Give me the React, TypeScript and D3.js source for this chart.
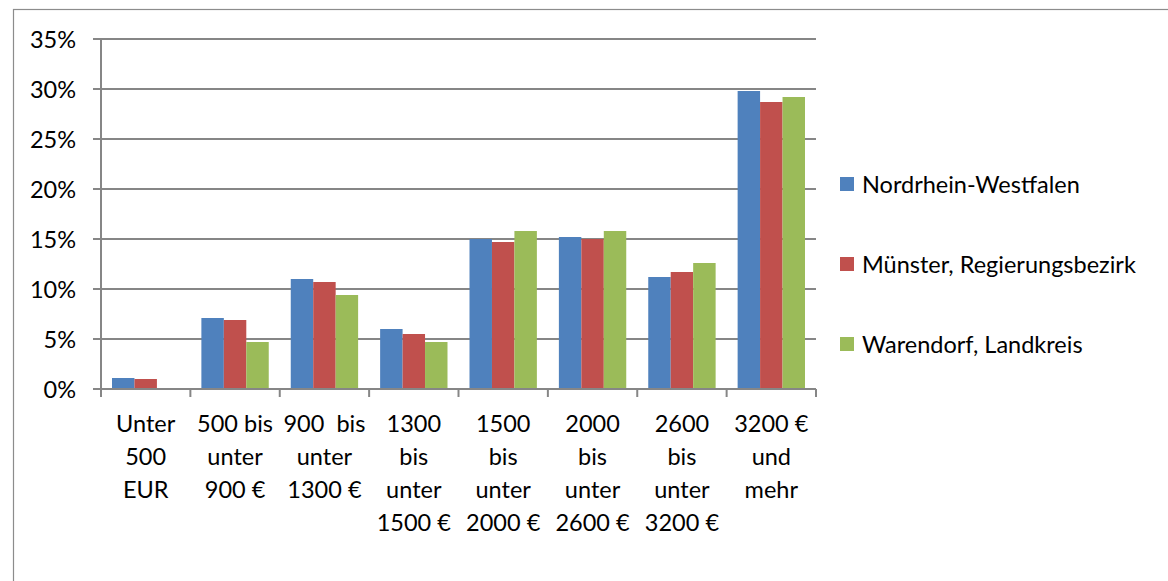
import React, { useEffect, useRef } from 'react';
import * as d3 from 'd3';

const categories = [
  ['Unter', '500', 'EUR'],
  ['500 bis', 'unter', '900 €'],
  ['900  bis', 'unter', '1300 €'],
  ['1300', 'bis', 'unter', '1500 €'],
  ['1500', 'bis', 'unter', '2000 €'],
  ['2000', 'bis', 'unter', '2600 €'],
  ['2600', 'bis', 'unter', '3200 €'],
  ['3200 €', 'und', 'mehr'],
];
const seriesNames = ['Nordrhein-Westfalen', 'Münster, Regierungsbezirk', 'Warendorf, Landkreis'];
const nrw = [1.1, 7.1, 11.0, 6.0, 15.0, 15.2, 11.2, 29.8];
const muenster = [1.0, 6.9, 10.7, 5.5, 14.7, 15.0, 11.7, 28.7];
const warendorf = [0, 4.7, 9.4, 4.7, 15.8, 15.8, 12.6, 29.2];
const yTicks = [0, 5, 10, 15, 20, 25, 30, 35];
const colors = ['#4F81BD', '#C0504D', '#9BBB59'];

export default function App() {
  const svgRef = useRef<SVGSVGElement>(null);

  useEffect(() => {
    if (!svgRef.current) return;
    const svg = d3.select(svgRef.current);
    svg.selectAll('*').remove();

    const font = 'Lato, Carlito, sans-serif';
    const fontSize = 23.5;
    const left = 101, right = 816, top = 39, bottom = 389;

    // outer chart border
    svg.append('rect')
      .attr('x', 13.5).attr('y', 9.5)
      .attr('width', 1200).attr('height', 700)
      .attr('fill', 'white')
      .attr('stroke', '#8c8c8c')
      .attr('stroke-width', 1.2);

    const idx = categories.map((_, i) => String(i));
    const x = d3.scaleBand().domain(idx).range([left, right]).paddingInner(0).paddingOuter(0);
    const x1 = d3.scaleBand().domain(['0', '1', '2']).range([0, x.bandwidth()]).paddingOuter(0.49).paddingInner(0);
    const y = d3.scaleLinear().domain([0, 35]).range([bottom, top]);

    // gridlines
    svg.append('g').selectAll('line')
      .data(yTicks)
      .enter()
      .append('line')
      .attr('x1', left - 8).attr('x2', right)
      .attr('y1', d => y(d)).attr('y2', d => y(d))
      .attr('stroke', '#868686')
      .attr('stroke-width', 2);

    // y labels
    svg.append('g').selectAll('text')
      .data(yTicks)
      .enter()
      .append('text')
      .attr('x', 76)
      .attr('y', d => y(d))
      .attr('text-anchor', 'end')
      .attr('dominant-baseline', 'central')
      .attr('font-family', font)
      .attr('font-size', fontSize)
      .attr('fill', '#000')
      .text(d => `${d}%`);

    // bars
    const series = [nrw, muenster, warendorf];
    series.forEach((vals, s) => {
      svg.append('g').selectAll('rect')
        .data(vals)
        .enter()
        .append('rect')
        .attr('x', (_, i) => x(String(i))! + x1(String(s))!)
        .attr('width', x1.bandwidth())
        .attr('y', d => y(d))
        .attr('height', d => bottom - y(d))
        .attr('fill', colors[s]);
    });

    // axes lines
    svg.append('line')
      .attr('x1', left).attr('x2', left)
      .attr('y1', top).attr('y2', bottom)
      .attr('stroke', '#868686').attr('stroke-width', 2);
    svg.append('line')
      .attr('x1', left - 8).attr('x2', right)
      .attr('y1', bottom).attr('y2', bottom)
      .attr('stroke', '#868686').attr('stroke-width', 2);
    // x ticks
    svg.append('g').selectAll('line')
      .data(d3.range(categories.length + 1))
      .enter()
      .append('line')
      .attr('x1', i => left + i * x.bandwidth())
      .attr('x2', i => left + i * x.bandwidth())
      .attr('y1', bottom).attr('y2', bottom + 8)
      .attr('stroke', '#868686').attr('stroke-width', 2);

    // x labels
    const xl = svg.append('g').selectAll('text')
      .data(categories)
      .enter()
      .append('text')
      .attr('text-anchor', 'middle')
      .attr('font-family', font)
      .attr('font-size', fontSize)
      .attr('fill', '#000')
      .style('white-space', 'pre');
    xl.each(function (lines, i) {
      const t = d3.select(this);
      lines.forEach((ln, j) => {
        t.append('tspan')
          .attr('x', x(String(i))! + x.bandwidth() / 2)
          .attr('y', 423 + j * 33)
          .attr('dominant-baseline', 'central')
          .text(ln);
      });
    });

    // legend
    const lg = svg.append('g').selectAll('g')
      .data(seriesNames)
      .enter()
      .append('g')
      .attr('transform', (_, i) => `translate(840, ${184 + i * 80})`);
    lg.append('rect')
      .attr('x', 0).attr('y', -7)
      .attr('width', 14).attr('height', 14)
      .attr('fill', (_, i) => colors[i]);
    lg.append('text')
      .attr('x', 22).attr('y', 0)
      .attr('dominant-baseline', 'central')
      .attr('font-family', font)
      .attr('font-size', fontSize)
      .attr('fill', '#000')
      .text(d => d);
  }, []);

  return (
    <svg
      ref={svgRef}
      width={1168}
      height={581}
      style={{ position: 'absolute', left: 0, top: 0, background: 'white' }}
    />
  );
}
